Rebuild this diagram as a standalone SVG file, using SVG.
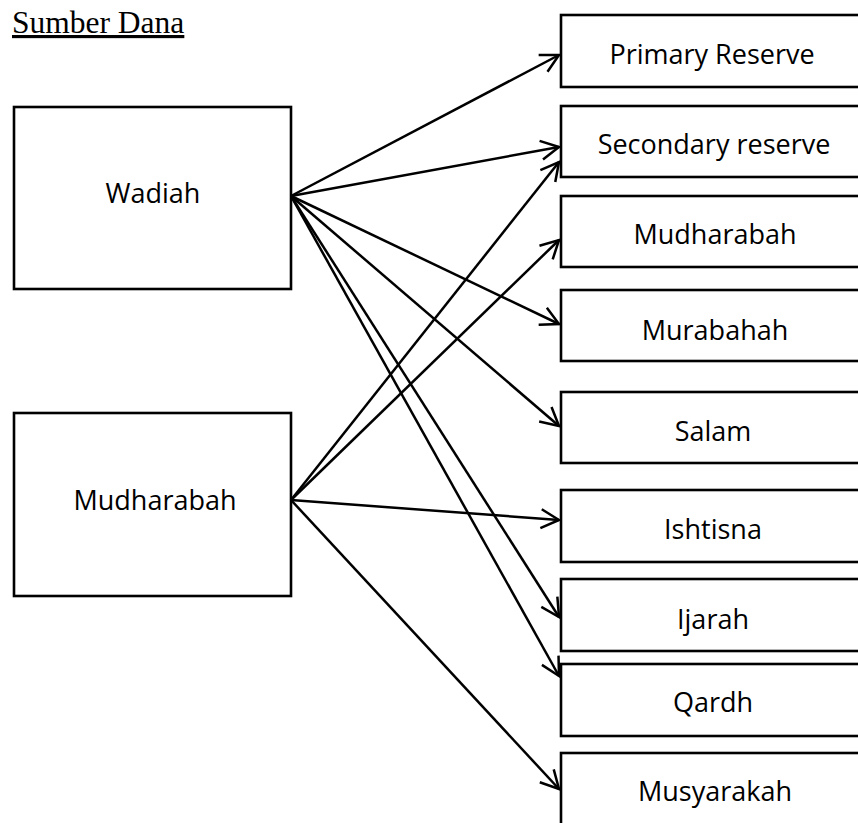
<svg xmlns="http://www.w3.org/2000/svg" width="858" height="823" viewBox="0 0 858 823">
<style>
  .box { fill: #ffffff; stroke: #000000; stroke-width: 2.6; }
  .lbl { font-family: "Open Sans", "Noto Sans", sans-serif; font-size: 27px; fill: #000000; text-anchor: middle; }
  .title { font-family: "Liberation Serif", "Times New Roman", serif; font-size: 31.5px; fill: #000000; text-decoration: underline; }
  .conn { stroke: #000000; stroke-width: 2.5; fill: none; marker-end: url(#arr); }
</style>
<defs>
  <marker id="arr" markerUnits="userSpaceOnUse" markerWidth="40" markerHeight="40" refX="0" refY="0" orient="auto" overflow="visible">
    <path d="M -18 -9.5 L 0 0 L -18 9.5" fill="none" stroke="#000000" stroke-width="2.5" stroke-linejoin="miter"/>
  </marker>
</defs>
<rect x="0" y="0" width="858" height="823" fill="#ffffff"/>
<text class="title" x="12" y="33">Sumber Dana</text>

<g id="wadiah"><rect class="box" x="14" y="107" width="277" height="182"/><text class="lbl" x="153" y="203">Wadiah</text></g>
<g id="mudharabah-src"><rect class="box" x="14" y="413" width="277" height="183"/><text class="lbl" x="155" y="510">Mudharabah</text></g>

<g id="primary-reserve"><rect class="box" x="561" y="15" width="330" height="72"/><text class="lbl" x="712" y="64">Primary Reserve</text></g>
<g id="secondary-reserve"><rect class="box" x="561" y="106" width="330" height="71"/><text class="lbl" x="714" y="154">Secondary reserve</text></g>
<g id="mudharabah"><rect class="box" x="561" y="196" width="330" height="71"/><text class="lbl" x="715" y="244">Mudharabah</text></g>
<g id="murabahah"><rect class="box" x="561" y="290" width="330" height="71"/><text class="lbl" x="715" y="340">Murabahah</text></g>
<g id="salam"><rect class="box" x="561" y="392" width="330" height="71"/><text class="lbl" x="713" y="441">Salam</text></g>
<g id="ishtisna"><rect class="box" x="561" y="490" width="330" height="72"/><text class="lbl" x="713" y="539">Ishtisna</text></g>
<g id="ijarah"><rect class="box" x="561" y="579" width="330" height="72"/><text class="lbl" x="713" y="629">Ijarah</text></g>
<g id="qardh"><rect class="box" x="561" y="664" width="330" height="72"/><text class="lbl" x="713" y="712">Qardh</text></g>
<g id="musyarakah"><rect class="box" x="561" y="753" width="330" height="100"/><text class="lbl" x="715" y="801">Musyarakah</text></g>

<g id="connectors">
  <line class="conn" x1="291" y1="196" x2="559" y2="55"/>
  <line class="conn" x1="291" y1="196" x2="559" y2="147"/>
  <line class="conn" x1="291" y1="196" x2="559" y2="324"/>
  <line class="conn" x1="291" y1="196" x2="559" y2="426"/>
  <line class="conn" x1="291" y1="196" x2="559" y2="617"/>
  <line class="conn" x1="291" y1="196" x2="559" y2="676"/>
  <line class="conn" x1="291" y1="500" x2="559" y2="162"/>
  <line class="conn" x1="291" y1="500" x2="559" y2="240"/>
  <line class="conn" x1="291" y1="500" x2="559" y2="520"/>
  <line class="conn" x1="291" y1="500" x2="559" y2="789"/>
</g>
</svg>
